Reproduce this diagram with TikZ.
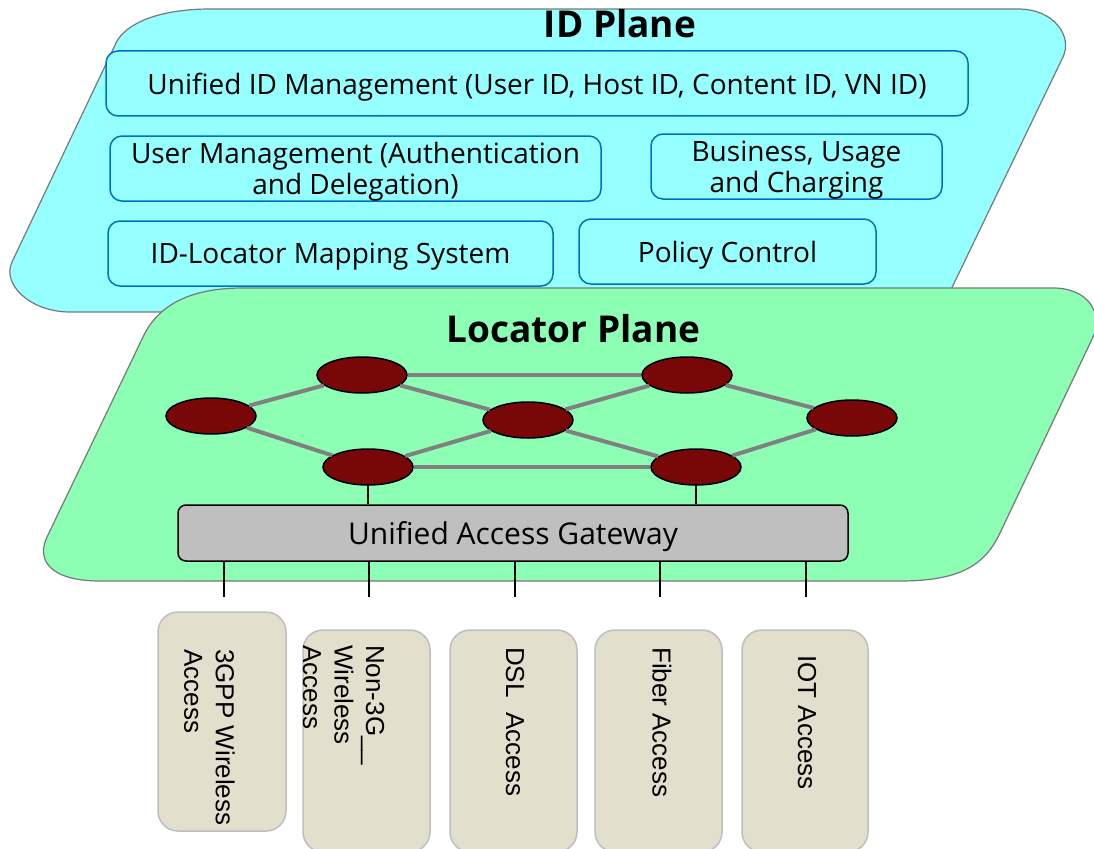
\documentclass[tikz,border=0pt]{standalone}
\usepackage{fontspec}
\setmainfont{Open Sans}
\newfontfamily\arialf{Liberation Sans}
\usetikzlibrary{shapes.geometric}
\definecolor{idcyan}{RGB}{150,255,255}
\definecolor{locgreen}{RGB}{140,255,180}
\definecolor{boxblue}{RGB}{0,112,192}
\definecolor{nodered}{RGB}{120,8,8}
\definecolor{edgegray}{RGB}{128,128,128}
\definecolor{gwgray}{RGB}{191,191,191}
\definecolor{accfill}{RGB}{227,223,205}
\definecolor{accline}{RGB}{190,190,190}
\definecolor{planeline}{RGB}{120,120,120}
\tikzset{
  plane/.style={draw=planeline, line width=1.2pt},
  idbox/.style={draw=boxblue, line width=1.5pt, rounded corners=12pt, fill=idcyan,
    inner sep=0pt, align=center, text depth=0pt, font=\fontsize{28}{31}\selectfont},
  titletext/.style={inner sep=0pt, font=\fontsize{37}{40}\selectfont\bfseries},
  router/.style={ellipse, draw=black, line width=1.5pt, fill=nodered,
    minimum width=90pt, minimum height=36pt, inner sep=0pt},
  link/.style={draw=edgegray, line width=4pt},
  conn/.style={draw=black, line width=1.2pt},
  gateway/.style={draw=black, line width=1.5pt, rounded corners=8pt, fill=gwgray,
    minimum width=670pt, minimum height=56pt, inner sep=0pt, text depth=0pt,
    font=\fontsize{30}{32}\selectfont},
  accbox/.style={draw=accline, line width=1.5pt, rounded corners=20pt, fill=accfill,
    minimum width=127pt, minimum height=222pt, inner sep=0pt},
  acctext/.style={rotate=-90, inner sep=0pt, align=left,
    font=\arialf\fontsize{26}{31.5}\selectfont}
}
\begin{document}
\begin{tikzpicture}[x=1pt, y=-1pt]
\useasboundingbox (0,0) rectangle (1094,848);

% ID plane
\path[plane, fill=idcyan] (210,9) -- (1018,9)
  .. controls (1055,9) and (1072.6,37) .. (1063,57)
  -- (946,300) .. controls (940,310) and (935,312) .. (925,312)
  -- (70,312) .. controls (30,312) and (1.5,284) .. (12,262)
  -- (116,43) .. controls (125.6,23) and (160,9) .. (210,9) -- cycle;

\node[titletext] (idtitle) at (620,23.5) {ID Plane};
\node[idbox, minimum width=862pt, minimum height=65pt] (uidm) at (537,83.5)
  {Unified ID Management (User ID, Host ID, Content ID, VN ID)};
\node[idbox, minimum width=491pt, minimum height=65pt] (um) at (355.5,168.5)
  {User Management (Authentication\\and Delegation)};
\node[idbox, minimum width=291pt, minimum height=65pt] (buc) at (796.5,166.5)
  {Business, Usage\\and Charging};
\node[idbox, minimum width=445pt, minimum height=65pt] (ilms) at (330.5,253.5)
  {ID-Locator Mapping System};
\node[idbox, minimum width=297pt, minimum height=65pt] (pc) at (727.5,251.5)
  {Policy Control};

% Locator plane
\path[plane, fill=locgreen] (243,288) -- (1053,288)
  .. controls (1090,288) and (1103,315) .. (1093,337)
  -- (1000,533) .. controls (985,565) and (960,581) .. (900,581)
  -- (100,581) .. controls (50,581) and (36,560) .. (47,537)
  -- (143,337) .. controls (158,305) and (190,288) .. (243,288) -- cycle;

\node[titletext] (loctitle) at (573.5,329) {Locator Plane};

\node[router] (n1) at (362,375) {};
\node[router] (n2) at (687,375) {};
\node[router] (n3) at (211,416) {};
\node[router] (n4) at (528,420) {};
\node[router] (n5) at (852,418) {};
\node[router] (n6) at (368,467) {};
\node[router] (n7) at (696,467) {};

\draw[link] (n1) -- (n2);
\draw[link] (n3) -- (n1);
\draw[link] (n3) -- (n6);
\draw[link] (n1) -- (n4);
\draw[link] (n4) -- (n2);
\draw[link] (n4) -- (n6);
\draw[link] (n4) -- (n7);
\draw[link] (n2) -- (n5);
\draw[link] (n5) -- (n7);
\draw[link] (n6) -- (n7);

\node[gateway] (gw) at (513,533) {Unified Access Gateway};
\draw[conn] (n6.south) -- (gw.north -| n6.south);
\draw[conn] (n7.south) -- (gw.north -| n7.south);

% access lines
\coordinate (t1) at (224,597);
\coordinate (t2) at (369,597);
\coordinate (t3) at (515,597);
\coordinate (t4) at (660,597);
\coordinate (t5) at (806,597);
\foreach \t in {t1,t2,t3,t4,t5} \draw[conn] (gw.south -| \t) -- (\t);

% access boxes
\node[accbox, minimum width=128pt, minimum height=219pt] (a1) at (222,721.5) {};
\node[accbox] (a2) at (366.5,741) {};
\node[accbox] (a3) at (513.5,741) {};
\node[accbox] (a4) at (658.5,741) {};
\node[accbox, minimum width=126pt] (a5) at (805,741) {};

\node[acctext, anchor=north west] (a1t) at (235,649) {3GPP Wireless\\Access};
\node[acctext, anchor=north west] (a2t) at (384.5,645) {Non-3G\_\_\\Wireless\\Access};
\node[acctext, anchor=west] (a3t) at (515,647) {DSL\ \ Access};
\node[acctext, anchor=west] (a4t) at (662,647) {Fiber Access};
\node[acctext, anchor=west] (a5t) at (807,655) {IOT Access};
\end{tikzpicture}
\end{document}
